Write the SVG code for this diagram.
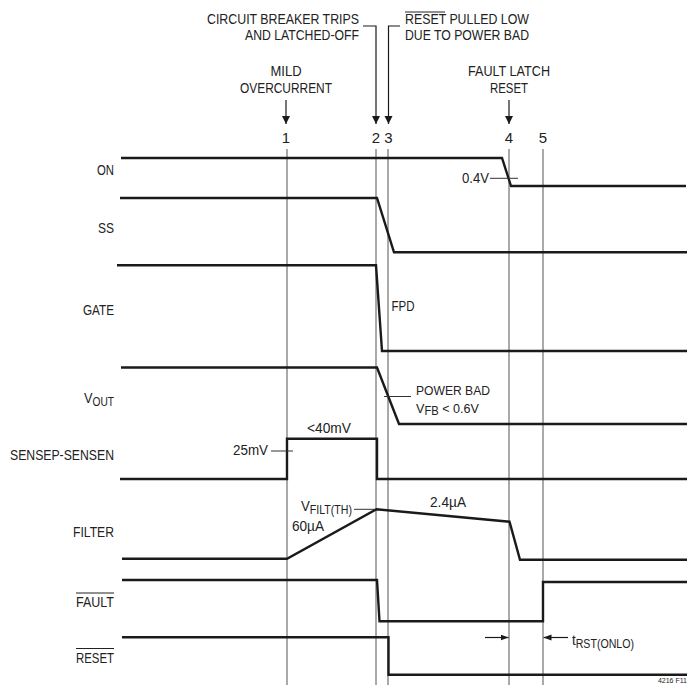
<svg xmlns="http://www.w3.org/2000/svg" width="690" height="685" viewBox="0 0 690 685">
<defs>
<style>
text{font-family:"Liberation Sans",Arial,sans-serif;font-size:15px;fill:#222}
.lbl{text-anchor:end}
.mid{text-anchor:middle}
.sig{fill:none;stroke:#1a1a1a;stroke-width:2.4;stroke-linejoin:miter}
.grid{stroke:#555;stroke-width:1;fill:none}
.tick{stroke:#333;stroke-width:1;fill:none}
.ldr{stroke:#1a1a1a;stroke-width:1.2;fill:none}
.ovl{stroke:#222;stroke-width:1}
.sub{font-size:12px}
.sm{font-size:13.5px}
</style>
<marker id="ah" markerWidth="8" markerHeight="10" refX="8" refY="5" orient="auto" markerUnits="userSpaceOnUse">
<path d="M0,1 L8,5 L0,9 Z" fill="#1a1a1a"/>
</marker>
<marker id="ahs" markerWidth="8" markerHeight="8" refX="8" refY="4" orient="auto" markerUnits="userSpaceOnUse">
<path d="M0,1 L8,4 L0,7 Z" fill="#1a1a1a"/>
</marker>
</defs>
<rect width="690" height="685" fill="#fff"/>

<g id="grid">
<line class="grid" x1="287" y1="149" x2="287" y2="685"/>
<line class="grid" x1="376" y1="149" x2="376" y2="685"/>
<line class="grid" x1="388" y1="149" x2="388" y2="685"/>
<line class="grid" x1="509" y1="149" x2="509" y2="685"/>
<line class="grid" x1="543" y1="149" x2="543" y2="685"/>
</g>

<g id="event-labels">
<text x="359" y="24" class="lbl" textLength="152" lengthAdjust="spacingAndGlyphs">CIRCUIT BREAKER TRIPS</text>
<text x="359" y="40" class="lbl" textLength="114" lengthAdjust="spacingAndGlyphs">AND LATCHED-OFF</text>
<text x="405" y="24" textLength="124" lengthAdjust="spacingAndGlyphs">RESET PULLED LOW</text>
<line class="ovl" x1="405" y1="12" x2="445" y2="12"/>
<text x="405" y="40" textLength="124" lengthAdjust="spacingAndGlyphs">DUE TO POWER BAD</text>
<text x="286" y="76" class="mid" textLength="31" lengthAdjust="spacingAndGlyphs">MILD</text>
<text x="286" y="92.5" class="mid" textLength="92" lengthAdjust="spacingAndGlyphs">OVERCURRENT</text>
<text x="509" y="76" class="mid" textLength="82" lengthAdjust="spacingAndGlyphs">FAULT LATCH</text>
<text x="509" y="92.5" class="mid" textLength="38" lengthAdjust="spacingAndGlyphs">RESET</text>
<text x="286" y="142.5" class="mid">1</text>
<text x="376" y="142.5" class="mid">2</text>
<text x="388.5" y="142.5" class="mid">3</text>
<text x="509" y="142.5" class="mid">4</text>
<text x="543" y="142.5" class="mid">5</text>
</g>

<g id="connectors">
<polyline class="ldr" points="363,26 376,26 376,124" marker-end="url(#ah)"/>
<polyline class="ldr" points="400,26 388.5,26 388.5,124" marker-end="url(#ah)"/>
<line class="ldr" x1="286" y1="100" x2="286" y2="124" marker-end="url(#ah)"/>
<line class="ldr" x1="509" y1="100" x2="509" y2="124" marker-end="url(#ah)"/>
<line class="ldr" x1="485" y1="637.5" x2="508.5" y2="637.5" marker-end="url(#ahs)"/>
<line class="ldr" x1="568" y1="637.5" x2="543.5" y2="637.5" marker-end="url(#ahs)"/>
</g>

<g id="sig-on">
<text x="114" y="175" class="lbl" textLength="17" lengthAdjust="spacingAndGlyphs">ON</text>
<polyline class="sig" points="121,158 502,158 511,186 686,186"/>
<line class="tick" x1="490" y1="178.3" x2="518" y2="178.3"/>
<text x="489" y="183" class="lbl" textLength="27" lengthAdjust="spacingAndGlyphs">0.4V</text>
</g>

<g id="sig-ss">
<text x="114" y="233" class="lbl" textLength="16" lengthAdjust="spacingAndGlyphs">SS</text>
<polyline class="sig" points="120,198 377,198 394,252.3 687,252.3"/>
</g>

<g id="sig-gate">
<text x="114" y="315" class="lbl" textLength="31" lengthAdjust="spacingAndGlyphs">GATE</text>
<polyline class="sig" points="117,265.3 376,265.3 382,351 687,351"/>
<text x="391.5" y="310.5" textLength="23" lengthAdjust="spacingAndGlyphs">FPD</text>
</g>

<g id="sig-vout">
<text x="114" y="403" class="lbl" textLength="30" lengthAdjust="spacingAndGlyphs">V<tspan class="sub" dy="3">OUT</tspan></text>
<polyline class="sig" points="121,367.5 377,367.5 399,424 687,424"/>
<line class="tick" x1="384" y1="396.5" x2="411" y2="396.5"/>
<text x="416" y="394.5" class="sm" textLength="74" lengthAdjust="spacingAndGlyphs">POWER BAD</text>
<text x="416" y="412.5" class="sm" textLength="63" lengthAdjust="spacingAndGlyphs">V<tspan class="sub" dy="2.5">FB</tspan><tspan dy="-2.5"> &lt; 0.6V</tspan></text>
</g>

<g id="sig-sense">
<text x="114" y="460" class="lbl" textLength="104" lengthAdjust="spacingAndGlyphs">SENSEP-SENSEN</text>
<polyline class="sig" points="120,479 287,479 287,438.7 377,438.7 377,479 687,479"/>
<line class="tick" x1="271" y1="451" x2="293" y2="451"/>
<text x="268" y="455" class="lbl" textLength="35" lengthAdjust="spacingAndGlyphs">25mV</text>
<text x="329" y="432.5" class="mid" textLength="44" lengthAdjust="spacingAndGlyphs">&lt;40mV</text>
</g>

<g id="sig-filter">
<text x="114" y="536.5" class="lbl" textLength="41" lengthAdjust="spacingAndGlyphs">FILTER</text>
<polyline class="sig" points="122,558.7 287,558.7 376.5,509.3 509.5,521.7 520,559.7 687,559.7"/>
<line class="tick" x1="354" y1="509.3" x2="375" y2="509.3"/>
<text x="301" y="511" textLength="51" lengthAdjust="spacingAndGlyphs">V<tspan class="sub" dy="3">FILT(TH)</tspan></text>
<text x="292" y="530.5" textLength="32" lengthAdjust="spacingAndGlyphs">60µA</text>
<text x="430" y="507" textLength="36" lengthAdjust="spacingAndGlyphs">2.4µA</text>
</g>

<g id="sig-fault">
<text x="114" y="607.3" class="lbl" textLength="38" lengthAdjust="spacingAndGlyphs">FAULT</text>
<line class="ovl" x1="76" y1="593" x2="114" y2="593"/>
<polyline class="sig" points="122,580 377,580 379.5,621.3 543,621.3 543,582 687,582"/>
</g>

<g id="sig-reset">
<text x="114" y="662.7" class="lbl" textLength="38" lengthAdjust="spacingAndGlyphs">RESET</text>
<line class="ovl" x1="76" y1="648.5" x2="114" y2="648.5"/>
<polyline class="sig" points="122,637.3 388.5,637.3 388.5,674.7 687,674.7"/>
<text x="572" y="645" textLength="62" lengthAdjust="spacingAndGlyphs">t<tspan class="sub" dy="3">RST(ONLO)</tspan></text>
</g>

<text x="687" y="683" class="lbl" style="font-size:7px">4216 F11</text>
</svg>
